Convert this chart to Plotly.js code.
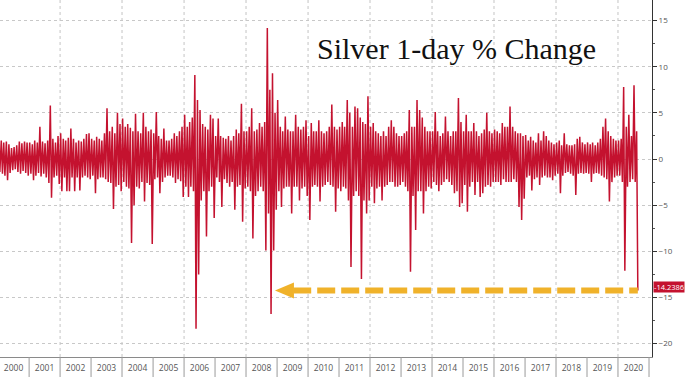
<!DOCTYPE html>
<html><head><meta charset="utf-8">
<script src="https://cdn.plot.ly/plotly-3.0.1.min.js"></script>
<style>html,body{margin:0;padding:0;background:#fff}#chart{width:688px;height:377px}</style>
</head><body><div id="chart"></div>
<script>
// Monthly extremes of the daily % change (Jan 2000 .. Aug 2020)
const firstYear = 2000;
const yearLabels = ['2000','2001','2002','2003','2004','2005','2006','2007','2008','2009','2010',
  '2011','2012','2013','2014','2015','2016','2017','2018','2019','2020'];
const monthlyHigh = [
  2.6, 2.0, 1.8, 1.9, 1.6, 1.2, 1.3, 1.5, 1.9, 1.7, 1.9, 1.8,   // 2000
  1.8, 1.6, 2.0, 1.8, 3.5, 1.9, 1.7, 2.0, 5.8, 2.2, 1.8, 2.5,   // 2001
  2.8, 2.2, 2.0, 2.3, 3.3, 2.2, 1.8, 2.0, 1.9, 2.2, 2.7, 2.8,   // 2002
  2.2, 2.0, 2.4, 2.2, 2.0, 2.8, 5.5, 3.0, 3.5, 2.8, 5.0, 3.8,   // 2003
  4.4, 3.5, 3.8, 3.4, 3.0, 4.9, 3.0, 2.8, 5.0, 3.5, 3.0, 3.2,   // 2004
  2.8, 5.1, 2.5, 2.2, 3.3, 2.0, 2.0, 2.2, 2.8, 2.5, 3.0, 3.5,   // 2005
  4.8, 3.5, 4.0, 4.5, 9.1, 6.4, 5.3, 3.8, 3.5, 3.2, 4.8, 4.4,   // 2006
  2.5, 4.4, 2.5, 2.3, 2.2, 2.5, 2.0, 2.5, 3.2, 2.8, 6.0, 3.0,   // 2007
  3.0, 3.5, 5.5, 3.0, 3.2, 3.9, 3.5, 4.0, 14.2, 7.5, 9.3, 5.0,  // 2008
  6.4, 3.5, 3.0, 4.6, 3.2, 3.0, 3.0, 4.8, 3.5, 3.2, 3.5, 4.2,   // 2009
  2.5, 3.9, 3.0, 3.0, 4.2, 3.0, 2.8, 3.0, 3.5, 5.9, 3.5, 3.2,   // 2010
  3.5, 4.0, 3.5, 6.4, 5.0, 3.5, 5.7, 5.5, 4.5, 4.0, 3.8, 6.8,   // 2011
  3.5, 3.9, 3.0, 2.8, 2.5, 3.0, 2.5, 3.5, 4.2, 3.5, 2.8, 2.5,   // 2012
  2.5, 2.8, 3.0, 5.3, 3.5, 3.5, 6.4, 5.3, 4.5, 3.5, 3.0, 3.0,   // 2013
  3.0, 5.1, 3.0, 2.5, 2.8, 4.6, 3.0, 2.5, 3.0, 3.0, 6.6, 4.0,   // 2014
  3.0, 4.8, 3.0, 3.0, 3.9, 3.0, 2.5, 2.8, 3.2, 5.0, 3.0, 2.8,   // 2015
  3.2, 3.0, 2.8, 3.9, 3.5, 3.5, 5.7, 3.5, 3.0, 2.8, 2.8, 2.5,   // 2016
  2.6, 2.0, 2.4, 2.0, 1.8, 2.8, 2.0, 3.0, 2.5, 2.0, 1.8, 1.6,   // 2017
  1.8, 2.0, 1.5, 2.8, 1.6, 1.5, 1.5, 1.6, 2.2, 2.4, 1.8, 1.6,   // 2018
  1.8, 1.6, 1.8, 1.5, 1.8, 2.2, 3.5, 4.4, 3.0, 2.5, 2.2, 2.0,   // 2019
  2.0, 2.2, 7.8, 3.5, 4.8, 2.5, 8.0, 3.0                        // 2020
];
const monthlyLow = [
  -1.4, -1.6, -1.8, -2.3, -1.5, -1.2, -1.1, -1.4, -1.6, -1.3, -1.5, -1.8,   // 2000
  -1.6, -2.3, -1.8, -1.5, -1.9, -1.6, -2.0, -2.6, -4.2, -2.0, -1.8, -2.7,   // 2001
  -3.5, -2.0, -3.5, -3.5, -2.0, -3.5, -2.0, -3.4, -2.0, -1.8, -2.0, -2.2,   // 2002
  -1.8, -3.7, -2.2, -2.0, -2.0, -2.2, -2.5, -2.6, -5.4, -3.0, -2.8, -3.5,   // 2003
  -2.5, -3.0, -3.2, -9.1, -5.0, -3.0, -3.2, -2.5, -4.6, -2.6, -2.8, -9.2,   // 2004
  -2.2, -2.0, -3.7, -2.5, -2.0, -1.8, -1.8, -2.0, -2.6, -2.2, -2.4, -4.1,   // 2005
  -3.0, -4.1, -3.0, -3.5, -18.4, -12.5, -4.5, -3.5, -8.4, -3.5, -3.0, -6.4, // 2006
  -2.0, -2.5, -5.2, -2.2, -2.6, -3.0, -2.5, -5.5, -3.0, -2.8, -6.8, -3.2,   // 2007
  -3.0, -3.5, -8.6, -4.0, -3.5, -3.0, -3.5, -9.9, -5.9, -16.8, -9.9, -5.5,  // 2008
  -3.5, -5.2, -3.2, -3.0, -3.0, -5.9, -3.0, -3.0, -4.5, -3.2, -3.0, -4.0,   // 2009
  -6.6, -3.0, -2.8, -3.0, -4.6, -3.0, -2.8, -2.5, -2.8, -3.0, -5.7, -3.2,   // 2010
  -3.5, -3.0, -3.2, -4.5, -11.7, -4.0, -3.5, -4.0, -13.0, -4.5, -5.9, -4.5, // 2011
  -3.0, -4.8, -3.2, -3.0, -4.5, -3.0, -2.8, -2.5, -2.5, -3.0, -3.0, -2.8,   // 2012
  -2.5, -3.0, -3.5, -12.2, -4.0, -7.7, -3.5, -3.5, -5.9, -3.5, -3.0, -3.2,  // 2013
  -2.5, -2.8, -3.5, -2.8, -2.5, -2.2, -2.5, -2.8, -3.7, -3.5, -5.2, -4.8,   // 2014
  -2.8, -5.7, -3.0, -2.5, -3.9, -2.5, -4.1, -3.7, -3.0, -2.8, -3.0, -2.5,   // 2015
  -2.5, -2.5, -2.8, -2.2, -2.5, -2.5, -2.5, -2.2, -2.5, -5.2, -6.6, -4.3,   // 2016
  -2.0, -1.8, -3.4, -2.2, -2.0, -2.8, -2.0, -1.8, -2.0, -2.0, -2.3, -1.8,   // 2017
  -1.6, -3.7, -1.8, -1.5, -1.4, -1.6, -1.8, -3.9, -1.6, -1.5, -1.6, -1.5,   // 2018
  -1.6, -2.5, -1.6, -1.5, -1.6, -1.8, -2.0, -2.2, -4.6, -2.5, -2.0, -1.8,   // 2019
  -1.8, -2.5, -12.1, -3.0, -2.5, -2.2, -2.5, -14.2386                        // 2020
];
const lastValue = -14.2386;
const titleText = 'Silver 1-day % Change';

// build daily-like zigzag: month high then month low
const xs = [], ys = [];
for (let i = 0; i < monthlyHigh.length; i++) {
  const yr = firstYear + Math.floor(i / 12);
  const mm = String(i % 12 + 1).padStart(2, '0');
  xs.push(yr + '-' + mm + '-08'); ys.push(monthlyHigh[i]);
  xs.push(yr + '-' + mm + '-22'); ys.push(monthlyLow[i]);
}
const lastDate = xs[xs.length - 1];

const shapes = [];
// dotted vertical gridlines every two years
for (let i = 2; i < yearLabels.length; i += 2) {
  shapes.push({type: 'line', xref: 'x', yref: 'paper', x0: yearLabels[i] + '-01-01', x1: yearLabels[i] + '-01-01',
    y0: 0, y1: 1, layer: 'below', line: {color: '#c4c4c4', width: 1, dash: 'dot'}});
}
// year box separators below the axis
for (let i = 1; i <= yearLabels.length; i++) {
  const d = (firstYear + i) + '-01-01';
  shapes.push({type: 'line', xref: 'x', yref: 'paper', x0: d, x1: d, y0: 0, y1: -0.06,
    line: {color: '#9a9a9a', width: 1}});
}
// orange dashed arrow
const arrowTip = '2008-12-07';
shapes.push({type: 'line', xref: 'x', yref: 'y', x0: '2009-07-10', x1: lastDate, y0: lastValue, y1: lastValue,
  line: {color: '#f0b22a', width: 6, dash: '18px,6px'}});
shapes.push({type: 'path', xref: 'x', yref: 'y', xsizemode: 'pixel', ysizemode: 'pixel',
  xanchor: arrowTip, yanchor: lastValue, path: 'M0,0 L19,-8 L19,8 Z',
  fillcolor: '#f0b22a', line: {width: 0}});

const trace = {
  type: 'scatter', mode: 'lines', x: xs, y: ys,
  line: {color: '#c4122f', width: 1.5}, hoverinfo: 'skip'
};

const layout = {
  width: 688, height: 377,
  margin: {l: 0, r: 36, t: 0, b: 20, pad: 0},
  paper_bgcolor: '#ffffff', plot_bgcolor: '#ffffff',
  showlegend: false,
  xaxis: {
    type: 'date', range: ['2000-01-24', '2021-02-05'],
    tickmode: 'array',
    tickvals: yearLabels.map(y => y + '-07-02'), ticktext: yearLabels,
    ticks: '', showgrid: false, zeroline: false,
    showline: true, linecolor: '#8a8a8a', linewidth: 1,
    tickfont: {family: 'Open Sans, DejaVu Sans, sans-serif', size: 8.5, color: '#555'},
    ticklabelstandoff: 3
  },
  yaxis: {
    side: 'right', range: [-21.45, 17.23], dtick: 5, tick0: 0,
    ticks: 'outside', ticklen: 4, tickcolor: '#333', tickwidth: 1,
    minor: {dtick: 2.5, ticks: 'outside', ticklen: 2, tickcolor: '#555', showgrid: false},
    showline: true, linecolor: '#333', linewidth: 1, mirror: false,
    showgrid: true, gridcolor: '#c8c8c8', griddash: 'dot', gridwidth: 1,
    zeroline: false,
    tickfont: {family: 'Open Sans, DejaVu Sans, sans-serif', size: 8, color: '#555'}
  },
  shapes: shapes,
  annotations: [
    {text: titleText, xref: 'paper', yref: 'paper', x: 457 / 652, y: 1 - 49 / 357,
      xanchor: 'center', yanchor: 'middle', showarrow: false,
      font: {family: 'Liberation Serif, Times New Roman, serif', size: 30, color: '#111'}},
    {text: String(lastValue), xref: 'paper', yref: 'y', x: 1, y: lastValue, xanchor: 'left', yanchor: 'middle',
      xshift: 1, yshift: 3, showarrow: false, bgcolor: '#c4122f', borderpad: 0,
      font: {family: 'Open Sans, DejaVu Sans, sans-serif', size: 7.5, color: '#ffffff'}}
  ]
};

Plotly.newPlot('chart', [trace], layout, {displayModeBar: false, staticPlot: true});
</script>
</body></html>
